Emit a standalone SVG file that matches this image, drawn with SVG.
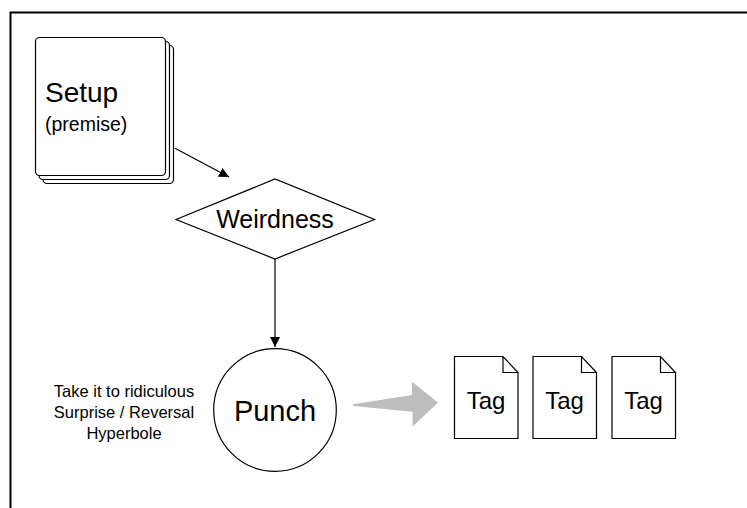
<svg xmlns="http://www.w3.org/2000/svg" width="747" height="508" viewBox="0 0 747 508">
<defs>
<style>
.s{fill:#fff;stroke:#000;stroke-width:1.2}
.t{font-family:"Liberation Sans",Arial,Helvetica,sans-serif;fill:#000}
.c{stroke:#000;stroke-width:1.2;fill:none}
</style>
<marker id="ah" viewBox="0 0 10 10" refX="10" refY="5" markerWidth="10" markerHeight="10" markerUnits="userSpaceOnUse" orient="auto">
<path d="M0,0 L10,5 L0,10 z" fill="#000"/>
</marker>
</defs>
<rect width="747" height="508" fill="#fff"/>
<path d="M10.5,508 V12.5 H747" fill="none" stroke="#000" stroke-width="2"/>
<g id="setup">
<rect class="s" x="43" y="45.5" width="130.5" height="138" rx="4"/>
<rect class="s" x="39" y="41.5" width="130.5" height="138" rx="4"/>
<rect class="s" x="35.5" y="37.5" width="130" height="138" rx="4"/>
<text class="t" x="45" y="102" font-size="28">Setup</text>
<text class="t" x="45" y="131" font-size="19.5">(premise)</text>
</g>
<g id="weirdness">
<polygon class="s" points="176,219.5 275,179 374.5,219.5 275,259"/>
<text class="t" x="275" y="228" font-size="25" text-anchor="middle">Weirdness</text>
</g>
<g id="punch">
<circle class="s" cx="275" cy="410" r="61.3"/>
<text class="t" x="275" y="420.5" font-size="29" text-anchor="middle">Punch</text>
</g>
<g id="notes">
<text class="t" font-size="16.5" text-anchor="middle"><tspan x="124" y="397">Take it to ridiculous</tspan><tspan x="124" y="418">Surprise / Reversal</tspan><tspan x="124" y="438.5">Hyperbole</tspan></text>
</g>
<g id="tag1">
<path class="s" d="M454.5,356.5 H503 L518,372.5 V438.5 H454.5 Z M503,356.5 V372.5 H518"/>
<text class="t" x="486" y="408.5" font-size="24" text-anchor="middle">Tag</text>
</g>
<g id="tag2">
<path class="s" d="M533,356.5 H581.5 L596.5,372.5 V438.5 H533 Z M581.5,356.5 V372.5 H596.5"/>
<text class="t" x="564.5" y="408.5" font-size="24" text-anchor="middle">Tag</text>
</g>
<g id="tag3">
<path class="s" d="M612,356.5 H660.5 L675.5,372.5 V438.5 H612 Z M660.5,356.5 V372.5 H675.5"/>
<text class="t" x="643.5" y="408.5" font-size="24" text-anchor="middle">Tag</text>
</g>
<g id="connectors">
<line class="c" x1="175" y1="148.3" x2="229" y2="177" marker-end="url(#ah)"/>
<line class="c" x1="275" y1="259" x2="275" y2="347" marker-end="url(#ah)"/>
<polygon points="353,404.3 412,395 412,381.7 438,402.5 412.5,426.7 412.5,411.7 353,406" fill="#bdbdbd"/>
</g>
</svg>
